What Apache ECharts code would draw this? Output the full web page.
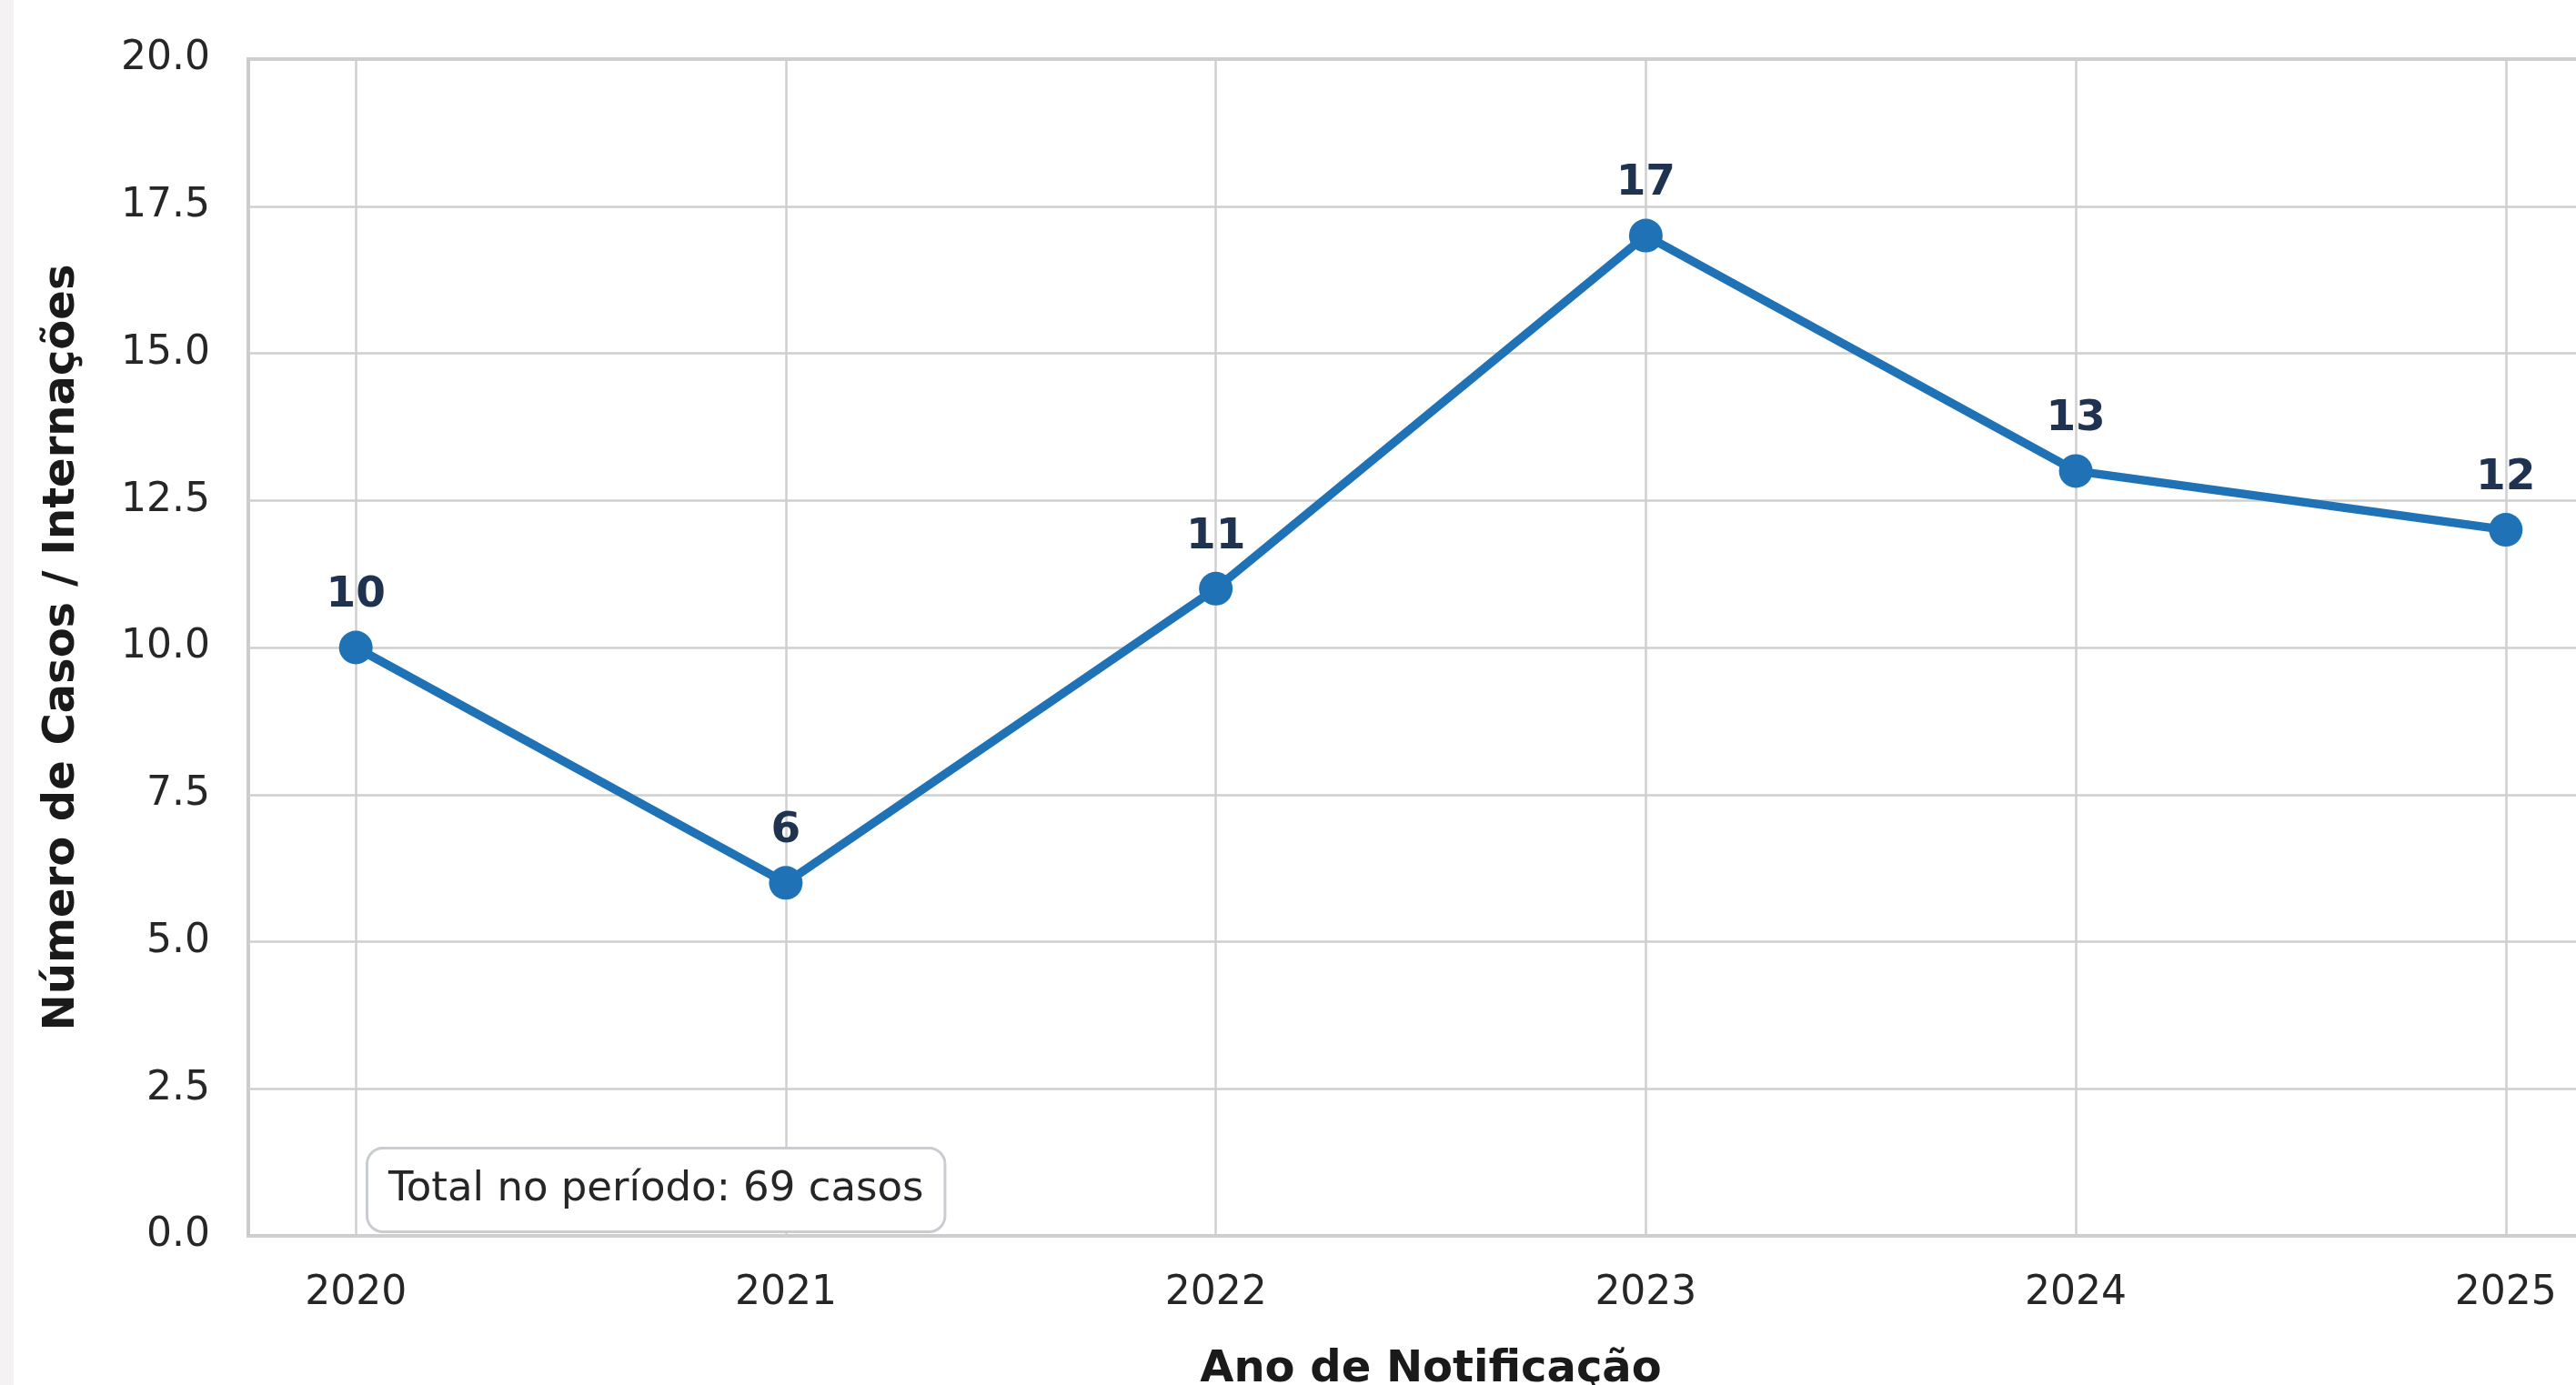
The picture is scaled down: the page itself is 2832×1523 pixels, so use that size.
<!DOCTYPE html>
<html>
<head>
<meta charset="utf-8">
<script src="https://cdn.jsdelivr.net/npm/echarts@6/dist/echarts.min.js"></script>
<style>
  html, body { margin: 0; padding: 0; background: #fff; }
  #chart { width: 2832px; height: 1523px; }
</style>
</head>
<body>
<div id="chart"></div>
<script>
// dados
const anos = [2020, 2021, 2022, 2023, 2024, 2025];
const casos = [10, 6, 11, 17, 13, 12];
const yTicks = [0, 2.5, 5, 7.5, 10, 12.5, 15, 17.5, 20];
const totalTexto = 'Total no período: 69 casos';

const font = 'DejaVu Sans';
const gridColor = '#cfcfcf';

const chart = echarts.init(document.getElementById('chart'));

const option = {
  backgroundColor: '#ffffff',
  animation: false,
  grid: {
    left: 273, top: 65, right: -41, bottom: 164,
    outerBoundsMode: 'none',
    containLabel: false,
    show: true,
    borderColor: '#cccccc',
    borderWidth: 4,
    backgroundColor: 'transparent'
  },
  xAxis: {
    type: 'value',
    min: anos[0] - 0.25,
    max: anos[anos.length - 1] + 0.25,
    name: 'Ano de Notificação',
    nameLocation: 'middle',
    nameGap: 124,
    nameTextStyle: { fontFamily: font, fontSize: 48, fontWeight: 'bold', color: '#1a1a1a' },
    axisLine: { show: false },
    axisTick: { show: false, customValues: anos },
    axisLabel: {
      customValues: anos,
      margin: 42,
      fontFamily: font, fontSize: 44, color: '#262626',
      formatter: v => String(v)
    },
    splitLine: { show: true, lineStyle: { color: gridColor, width: 2.5 } }
  },
  yAxis: {
    type: 'value',
    min: yTicks[0],
    max: yTicks[yTicks.length - 1],
    interval: 2.5,
    name: 'Número de Casos / Internações',
    nameLocation: 'middle',
    nameGap: 180,
    nameTextStyle: { fontFamily: font, fontSize: 48, fontWeight: 'bold', color: '#1a1a1a' },
    axisLine: { show: false },
    axisTick: { show: false },
    axisLabel: {
      margin: 42,
      padding: [16, 0, 0, 0],
      fontFamily: font, fontSize: 44, color: '#262626',
      formatter: v => v.toFixed(1)
    },
    splitLine: { show: true, lineStyle: { color: gridColor, width: 2.5 } }
  },
  series: [{
    type: 'line',
    data: anos.map((a, i) => [a, casos[i]]),
    symbol: 'circle',
    symbolSize: 37,
    lineStyle: { color: '#1f72b5', width: 9.5 },
    itemStyle: { color: '#1f72b5' },
    label: {
      show: true,
      position: 'top',
      distance: 15,
      fontFamily: font, fontSize: 47, fontWeight: 'bold', color: '#1f3350'
    },
    z: 5
  }],
  graphic: [
    {
      type: 'rect',
      left: 0, top: 0,
      shape: { width: 15, height: 1523 },
      style: { fill: '#f4f2f2' },
      silent: true
    },
    {
      type: 'text',
      x: 405, y: 1264,
      z: 10,
      style: {
        text: totalTexto,
        fontFamily: font, fontSize: 45, fill: '#262626',
        backgroundColor: '#ffffff',
        borderColor: '#c9ccd0', borderWidth: 3, borderRadius: 16,
        padding: [22, 22, 22, 22]
      }
    }
  ]
};

chart.setOption(option);
</script>
</body>
</html>
